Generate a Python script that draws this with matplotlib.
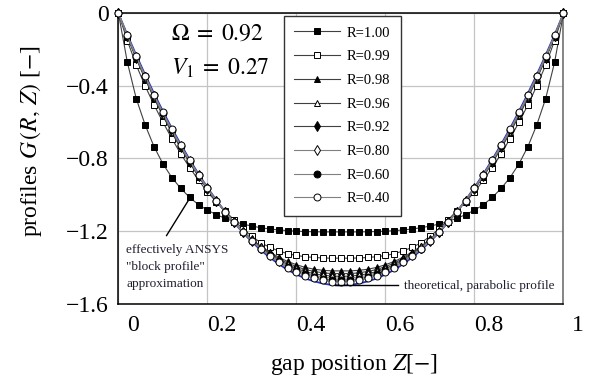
import numpy as np
import matplotlib
matplotlib.use("Agg")
import matplotlib.pyplot as plt
from matplotlib.transforms import ScaledTranslation

plt.rcParams['font.family'] = ['Liberation Serif', 'DejaVu Serif']
plt.rcParams['mathtext.fontset'] = 'stix'

# gap positions
z = [0.00, 0.02, 0.04, 0.06, 0.08, 0.10, 0.12, 0.14, 0.16, 0.18,
     0.20, 0.22, 0.24, 0.26, 0.28, 0.30, 0.32, 0.34, 0.36, 0.38,
     0.40, 0.42, 0.44, 0.46, 0.48, 0.50, 0.52, 0.54, 0.56, 0.58,
     0.60, 0.62, 0.64, 0.66, 0.68, 0.70, 0.72, 0.74, 0.76, 0.78,
     0.80, 0.82, 0.84, 0.86, 0.88, 0.90, 0.92, 0.94, 0.96, 0.98, 1.00]

# theoretical parabolic profile
g_theory = [0, -0.118, -0.230, -0.338, -0.442, -0.540, -0.634, -0.722, -0.806, -0.886,
            -0.960, -1.030, -1.094, -1.154, -1.210, -1.260, -1.306, -1.346, -1.382, -1.414,
            -1.440, -1.462, -1.478, -1.490, -1.498, -1.500, -1.498, -1.490, -1.478, -1.462,
            -1.440, -1.414, -1.382, -1.346, -1.306, -1.260, -1.210, -1.154, -1.094, -1.030,
            -0.960, -0.886, -0.806, -0.722, -0.634, -0.540, -0.442, -0.338, -0.230, -0.118, 0]

g_100 = [0, -0.270, -0.470, -0.615, -0.735, -0.830, -0.905, -0.965, -1.015, -1.055,
         -1.085, -1.110, -1.130, -1.148, -1.162, -1.173, -1.182, -1.189, -1.194, -1.198,
         -1.201, -1.203, -1.204, -1.205, -1.205, -1.205, -1.205, -1.205, -1.204, -1.203,
         -1.201, -1.198, -1.194, -1.189, -1.182, -1.173, -1.162, -1.148, -1.130, -1.110,
         -1.085, -1.055, -1.015, -0.965, -0.905, -0.830, -0.735, -0.615, -0.470, -0.270, 0]

g_099 = [0, -0.150, -0.285, -0.400, -0.505, -0.600, -0.690, -0.775, -0.850, -0.920,
         -0.985, -1.040, -1.090, -1.140, -1.190, -1.230, -1.265, -1.290, -1.310, -1.325,
         -1.335, -1.342, -1.346, -1.349, -1.350, -1.350, -1.350, -1.349, -1.346, -1.342,
         -1.335, -1.325, -1.310, -1.290, -1.265, -1.230, -1.190, -1.140, -1.090, -1.040,
         -0.985, -0.920, -0.850, -0.775, -0.690, -0.600, -0.505, -0.400, -0.285, -0.150, 0]

g_098 = [0, -0.130, -0.250, -0.362, -0.468, -0.566, -0.658, -0.744, -0.824, -0.900,
         -0.970, -1.036, -1.096, -1.152, -1.202, -1.246, -1.284, -1.316, -1.344, -1.368,
         -1.386, -1.401, -1.411, -1.417, -1.420, -1.420, -1.420, -1.417, -1.411, -1.401,
         -1.386, -1.368, -1.344, -1.316, -1.284, -1.246, -1.202, -1.152, -1.096, -1.036,
         -0.970, -0.900, -0.824, -0.744, -0.658, -0.566, -0.468, -0.362, -0.250, -0.130, 0]

g_096 = [0, -0.128, -0.246, -0.358, -0.463, -0.561, -0.654, -0.740, -0.821, -0.898,
         -0.968, -1.035, -1.096, -1.152, -1.203, -1.248, -1.288, -1.322, -1.351, -1.377,
         -1.396, -1.413, -1.423, -1.431, -1.435, -1.435, -1.435, -1.431, -1.423, -1.413,
         -1.396, -1.377, -1.351, -1.322, -1.288, -1.248, -1.203, -1.152, -1.096, -1.035,
         -0.968, -0.898, -0.821, -0.740, -0.654, -0.561, -0.463, -0.358, -0.246, -0.128, 0]

g_092 = [0, -0.126, -0.243, -0.353, -0.458, -0.556, -0.649, -0.736, -0.818, -0.895,
         -0.967, -1.034, -1.096, -1.152, -1.205, -1.251, -1.292, -1.327, -1.358, -1.385,
         -1.406, -1.424, -1.436, -1.444, -1.449, -1.450, -1.449, -1.444, -1.436, -1.424,
         -1.406, -1.385, -1.358, -1.327, -1.292, -1.251, -1.205, -1.152, -1.096, -1.034,
         -0.967, -0.895, -0.818, -0.736, -0.649, -0.556, -0.458, -0.353, -0.243, -0.126, 0]

g_080 = [0, -0.124, -0.240, -0.350, -0.455, -0.553, -0.646, -0.733, -0.815, -0.893,
         -0.965, -1.033, -1.095, -1.153, -1.206, -1.253, -1.295, -1.331, -1.363, -1.391,
         -1.413, -1.432, -1.444, -1.454, -1.459, -1.460, -1.459, -1.454, -1.444, -1.432,
         -1.413, -1.391, -1.363, -1.331, -1.295, -1.253, -1.206, -1.153, -1.095, -1.033,
         -0.965, -0.893, -0.815, -0.733, -0.646, -0.553, -0.455, -0.350, -0.240, -0.124, 0]

g_060 = [0, -0.123, -0.238, -0.347, -0.452, -0.550, -0.643, -0.730, -0.813, -0.891,
         -0.964, -1.032, -1.095, -1.153, -1.207, -1.255, -1.298, -1.335, -1.368, -1.397,
         -1.420, -1.439, -1.453, -1.463, -1.469, -1.470, -1.469, -1.463, -1.453, -1.439,
         -1.420, -1.397, -1.368, -1.335, -1.298, -1.255, -1.207, -1.153, -1.095, -1.032,
         -0.964, -0.891, -0.813, -0.730, -0.643, -0.550, -0.452, -0.347, -0.238, -0.123, 0]

g_040 = [0, -0.121, -0.235, -0.344, -0.448, -0.546, -0.640, -0.727, -0.811, -0.890,
         -0.963, -1.032, -1.095, -1.153, -1.208, -1.256, -1.301, -1.339, -1.373, -1.403,
         -1.427, -1.447, -1.461, -1.472, -1.479, -1.480, -1.479, -1.472, -1.461, -1.447,
         -1.427, -1.403, -1.373, -1.339, -1.301, -1.256, -1.208, -1.153, -1.095, -1.032,
         -0.963, -0.890, -0.811, -0.727, -0.640, -0.546, -0.448, -0.344, -0.235, -0.121, 0]

labels = ['R=1.00', 'R=0.99', 'R=0.98', 'R=0.96', 'R=0.92', 'R=0.80', 'R=0.60', 'R=0.40']
series = [g_100, g_099, g_098, g_096, g_092, g_080, g_060, g_040]
markers = ['s', 's', '^', '^', 'd', 'd', 'o', 'o']
faces = ['black', 'white', 'black', 'white', 'black', 'white', 'black', 'white']
line_cols = ['#404040', '#404040', '#404040', '#404040', '#404040', '#808080', '#808080', '#808080']
xticks = [0, 0.2, 0.4, 0.6, 0.8, 1]
xticklabels = ['0', '0.2', '0.4', '0.6', '0.8', '1']
yticks = [0, -0.4, -0.8, -1.2, -1.6]
yticklabels = ['0', '\u22120.4', '\u22120.8', '\u22121.2', '\u22121.6']

fig = plt.figure(figsize=(5.9, 3.8), dpi=100)
ax = fig.add_axes([0.2008, 0.2013, 0.7542, 0.7632])

ax.plot(z, g_theory, color='#2030c8', lw=1.3, zorder=2, clip_on=False)
for g, lab, m, fc, lc in zip(series, labels, markers, faces, line_cols):
    ms = 5.5 if m == 'd' else 5
    ax.plot(z, g, color=lc, lw=0.8, marker=m, markersize=ms, markerfacecolor=fc,
            markeredgecolor='black', markeredgewidth=0.7, label=lab, zorder=3, clip_on=False)

ax.set_xlim(0, 1)
ax.set_ylim(-1.6, 0)
ax.set_xticks(xticks)
ax.set_xticklabels(xticklabels, fontsize=17)
ax.set_yticks(yticks)
ax.set_yticklabels(yticklabels, fontsize=17)
ax.tick_params(length=0, pad=7)
ax.tick_params(axis='x', pad=8)
ax.grid(True, color='#c4c4c4', lw=0.9)
ax.set_axisbelow(True)
for sp in ax.spines.values():
    sp.set_linewidth(1.1)
ax.spines['right'].set_color('#666666')

# x tick labels sit a bit to the right in the original
shift = ScaledTranslation(14.5 / 100, 0, fig.dpi_scale_trans)
for t in ax.get_xticklabels():
    t.set_transform(t.get_transform() + shift)

ax.set_xlabel(r'gap position $Z$[$-$]', fontsize=17)
ax.xaxis.set_label_coords(0.529, -0.209)
ax.xaxis.label.set_va('center')
ax.set_ylabel(r'profiles $G\,(R,\,Z)$ [$-$]', fontsize=17)
ax.yaxis.set_label_coords(-0.197, 0.56)
ax.yaxis.label.set_va('center')

ax.text(0.119, 0.927, r'$\Omega\;=\;0.92$', fontsize=17, transform=ax.transAxes, va='center')
ax.text(0.119, 0.81, r'$V_1\;=\;0.27$', fontsize=17, transform=ax.transAxes, va='center')

leg = ax.legend(loc='upper left', bbox_to_anchor=(0.371, 0.991), borderaxespad=0,
                fontsize=10.5, numpoints=1, handlelength=3.2, handletextpad=0.45,
                labelspacing=0.72, borderpad=0.7, fancybox=False, framealpha=1,
                edgecolor='#333333')
leg.get_frame().set_linewidth(1.0)

# annotations
ax.annotate('', xy=(0.162, -1.012), xytext=(0.1045, -1.239),
            arrowprops=dict(arrowstyle='-', color='black', lw=1.0))
ax.text(0.017, -1.399, 'effectively ANSYS\n"block profile"\napproximation', fontsize=9.5,
        va='center', ha='left', linespacing=1.55, color='#202030')
ax.plot([0.487, 0.628], [-1.50, -1.50], color='black', lw=1.0, zorder=4)
ax.text(0.642, -1.503, 'theoretical, parabolic profile', fontsize=9.5, va='center', ha='left',
        color='#202030')

fig.savefig('out.png', dpi=100)
